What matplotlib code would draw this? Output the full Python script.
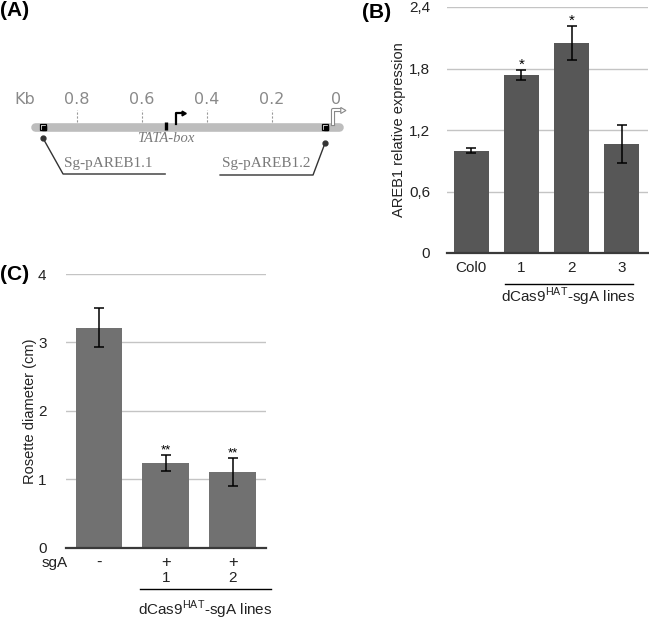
import matplotlib
matplotlib.use("Agg")
import matplotlib.pyplot as plt
import matplotlib.transforms as mtransforms

plt.rcParams['font.family'] = ['Liberation Sans', 'DejaVu Sans']
plt.rcParams['mathtext.fontset'] = 'custom'
plt.rcParams['mathtext.rm'] = 'Liberation Sans'

# ---------------- data ----------------
# Panel A: promoter map (positions in kb upstream of ATG)
kb_ticks = [0.8, 0.6, 0.4, 0.2]
kb_zero = 0
promoter_start_kb = 0.93
promoter_end_kb = -0.005
sg_names = ["Sg-pAREB1.1", "Sg-pAREB1.2"]
sg_kb = [0.905, 0.037]
tata_kb = 0.526
tss_kb = 0.495
atg_kb = 0.012

# Panel B: AREB1 relative expression
b_categories = ["Col0", "1", "2", "3"]
b_values = [1.00, 1.733, 2.046, 1.063]
b_errors = [0.025, 0.05, 0.165, 0.185]
b_signif = ["", "*", "*", ""]
b_yticks = [0, 0.6, 1.2, 1.8, 2.4]
b_yticklabels = ["0", "0,6", "1,2", "1,8", "2,4"]

# Panel C: rosette diameter
c_sgA = ["-", "+", "+"]
c_lines = ["", "1", "2"]
c_values = [3.216, 1.234, 1.107]
c_errors = [0.28, 0.115, 0.20]
c_signif = ["", "**", "**"]
c_yticks = [0, 1, 2, 3, 4]

W, H = 649, 620
fig = plt.figure(figsize=(W / 100, H / 100), dpi=100)


def px_axes(x0, y0, x1, y1):
    """axes from pixel box (top-left origin)"""
    return fig.add_axes([x0 / W, 1 - y1 / H, (x1 - x0) / W, (y1 - y0) / H])


bar_label_font = dict(fontsize=11, color='#222222')
grid_col = '#c4c4c4'
base_col = '#3a3a3a'
lines_label = r'dCas9$^{\mathrm{HAT}}$-sgA lines'

# ---------------- Panel A ----------------
axA = px_axes(0, 60, 380, 200)
axA.set_xlim(1.037, -0.132)
axA.set_ylim(-73, 67)
axA.axis('off')
gray_txt = '#8a8a8a'

axA.plot([promoter_start_kb, promoter_end_kb], [0, 0], color='#bdbdbd', lw=6.2,
         solid_capstyle='round', zorder=1)
for k in kb_ticks:
    axA.plot([k, k], [5, 17], color='#999999', lw=0.8, ls=(0, (2, 1.5)), zorder=0)
    axA.text(k, 28, f"{k:.1f}", ha='center', va='center', fontsize=11.5,
             color=gray_txt, family='DejaVu Sans')
axA.text(kb_zero + 0.003, 28, "0", ha='center', va='center', fontsize=11.5,
         color=gray_txt, family='DejaVu Sans')
axA.text(0.962, 28, "Kb", ha='center', va='center', fontsize=11.5,
         color=gray_txt, family='DejaVu Sans')

# TATA box
axA.plot([tata_kb], [1], marker='|', ms=5.5, mew=2.4, color='black', zorder=3)
axA.text(tata_kb, -12, "TATA-box", ha='center', va='center', fontsize=10.5,
         color='#7a7a7a', family='Liberation Serif', style='italic')
# TSS arrow
axA.plot([tss_kb, tss_kb, tss_kb - 0.02], [3, 14, 14], color='black', lw=1.6,
         solid_joinstyle='round', zorder=3)
axA.plot([tss_kb - 0.02], [14], marker=(3, 0, -90), ms=4, color='black', zorder=3)
# ATG open arrow
axA.plot([atg_kb, atg_kb, atg_kb - 0.022], [3, 17, 17], color='#888888', lw=3.0,
         solid_joinstyle='round', zorder=3)
axA.plot([atg_kb, atg_kb, atg_kb - 0.022], [3, 17, 17], color='white', lw=1.4,
         solid_joinstyle='round', zorder=4)
axA.plot([atg_kb - 0.027], [17], marker=(3, 0, -90), ms=5, mfc='white', mec='#888888',
         mew=0.8, zorder=5)

# sgRNA sites
for k in sg_kb:
    axA.plot([k], [0], marker='s', ms=4.5, mfc='white', mec='black', mew=0.9, zorder=3)
    axA.plot([k - 0.004], [-1.2], marker='s', ms=2.2, color='black', zorder=4)

# leader lines / labels
axA.plot([sg_kb[0]], [-11], 'o', ms=3.5, color='#333333')
axA.plot([sg_kb[0], 0.843, 0.529], [-11, -47, -47], color='#333333', lw=1.0)
axA.text(0.705, -37, sg_names[0], ha='center', va='center', fontsize=11,
         color='#7a7a7a', family='Liberation Serif')
axA.plot([sg_kb[1]], [-16], 'o', ms=3.5, color='#333333')
axA.plot([sg_kb[1], 0.074, 0.36], [-16, -48, -48], color='#333333', lw=1.0)
axA.text(0.218, -37, sg_names[1], ha='center', va='center', fontsize=11,
         color='#7a7a7a', family='Liberation Serif')

# ---------------- Panel B ----------------
axB = px_axes(447, 7, 648, 253)
xb = list(range(len(b_categories)))
axB.bar(xb, b_values, width=0.7, color='#575757', zorder=2)
axB.errorbar(xb, b_values, yerr=b_errors, fmt='none', ecolor='black', elinewidth=1.1,
             capsize=3.3, capthick=1.1, zorder=3)
for x, v, e, s in zip(xb, b_values, b_errors, b_signif):
    if s:
        axB.annotate(s, (x, v + e), xytext=(0, -1), textcoords='offset points',
                     ha='center', va='bottom', fontsize=11)
axB.set_xlim(-0.48, 3.52)
axB.set_ylim(0, 2.4)
axB.set_yticks(b_yticks)
axB.set_yticklabels(b_yticklabels, **bar_label_font)
axB.set_xticks(xb)
axB.set_xticklabels(b_categories, **bar_label_font)
axB.tick_params(length=0, pad=6)
axB.tick_params(axis='y', pad=12)
for yv in b_yticks[1:]:
    axB.axhline(yv, color=grid_col, lw=1.0, zorder=1)
for sp in ['top', 'right', 'left']:
    axB.spines[sp].set_visible(False)
axB.spines['bottom'].set_color(base_col)
axB.spines['bottom'].set_linewidth(1.6)
axB.set_ylabel("AREB1 relative expression", fontsize=10.5, color='#222222', labelpad=2)
transB = mtransforms.blended_transform_factory(axB.transData, axB.transAxes)
axB.plot([0.68, 3.22], [-0.126, -0.126], color='black', lw=1.0, transform=transB,
         clip_on=False)
axB.text(1.93, -0.18, lines_label, transform=transB, ha='center', va='center',
         **bar_label_font)

# ---------------- Panel C ----------------
axC = px_axes(66, 274, 266, 547.7)
xc = list(range(len(c_values)))
axC.bar(xc, c_values, width=0.7, color='#717171', zorder=2)
axC.errorbar(xc, c_values, yerr=c_errors, fmt='none', ecolor='black', elinewidth=1.1,
             capsize=3.3, capthick=1.1, zorder=3)
for x, v, e, s in zip(xc, c_values, c_errors, c_signif):
    if s:
        axC.annotate(s, (x, v + e), xytext=(0, -1), textcoords='offset points',
                     ha='center', va='bottom', fontsize=9.5)
axC.set_xlim(-0.494, 2.498)
axC.set_ylim(0, 4)
axC.set_yticks(c_yticks)
axC.set_yticklabels([str(t) for t in c_yticks], **bar_label_font)
axC.set_xticks(xc)
axC.set_xticklabels(c_sgA, fontsize=12, color='#222222')
axC.tick_params(length=0, pad=5)
axC.tick_params(axis='y', pad=14)
for yv in c_yticks[1:]:
    axC.axhline(yv, color=grid_col, lw=1.0, zorder=1)
for sp in ['top', 'right', 'left']:
    axC.spines[sp].set_visible(False)
axC.spines['bottom'].set_color(base_col)
axC.spines['bottom'].set_linewidth(1.6)
axC.set_ylabel("Rosette diameter (cm)", fontsize=10.5, color='#222222', labelpad=1)
transC = mtransforms.blended_transform_factory(axC.transData, axC.transAxes)
axC.text(-0.67, -0.056, "sgA", transform=transC, ha='center', va='center',
         **bar_label_font)
for x, s in zip(xc, c_lines):
    if s:
        axC.text(x, -0.111, s, transform=transC, ha='center', va='center',
                 **bar_label_font)
axC.plot([0.613, 2.573], [-0.151, -0.151], color='black', lw=1.0, transform=transC,
         clip_on=False)
axC.text(1.586, -0.228, lines_label, transform=transC, ha='center', va='center',
         **bar_label_font)

# ---------------- Panel labels ----------------
fig.text(0 / W, 1 - 11 / H, "(A)", fontsize=15, fontweight='bold', va='center', ha='left')
fig.text(362 / W, 1 - 13 / H, "(B)", fontsize=15, fontweight='bold', va='center', ha='left')
fig.text(0 / W, 1 - 274 / H, "(C)", fontsize=15, fontweight='bold', va='center', ha='left')

fig.savefig("out.png", dpi=100)
